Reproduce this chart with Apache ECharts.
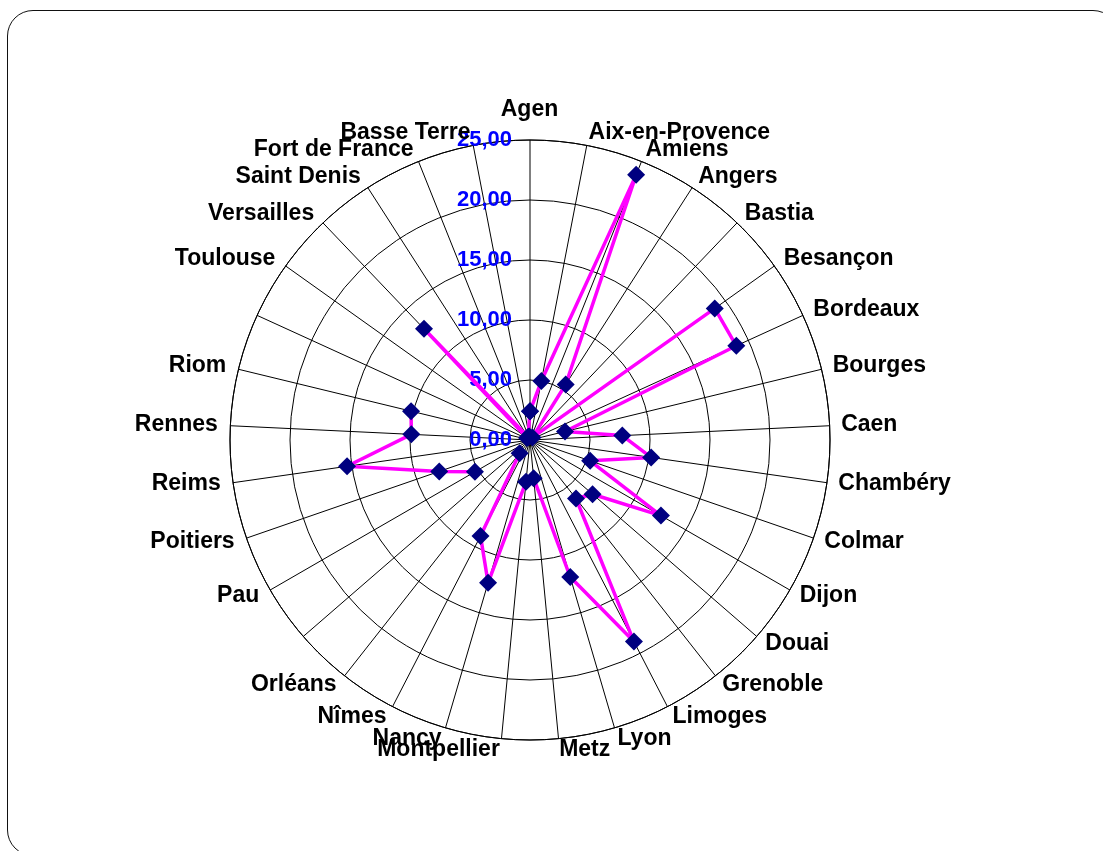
<!DOCTYPE html>
<html>
<head>
<meta charset="utf-8">
<script src="https://cdn.jsdelivr.net/npm/echarts@6/dist/echarts.min.js"></script>
<style>
  html, body { margin: 0; padding: 0; background: #fff; overflow: hidden; }
  #radar { width: 1103px; height: 851px; }
  #frame {
    position: absolute; left: 7px; top: 10px;
    width: 1110px; height: 844px;
    border: 1.5px solid #111; border-radius: 26px;
    pointer-events: none;
  }
</style>
</head>
<body>
<div id="radar"></div>
<div id="frame"></div>
<script>
  // villes (deux catégories sans nom dans l'original)
  var cities = ['Agen', 'Aix-en-Provence', 'Amiens', 'Angers', 'Bastia', 'Besançon', 'Bordeaux',
    'Bourges', 'Caen', 'Chambéry', 'Colmar', 'Dijon', 'Douai', 'Grenoble', 'Limoges', 'Lyon',
    'Metz', 'Montpellier', 'Nancy', 'Nîmes', 'Orléans', '', 'Pau', 'Poitiers', 'Reims', 'Rennes',
    'Riom', '', 'Toulouse', 'Versailles', 'Saint Denis', 'Fort de France', 'Basse Terre']
  var values = [2.4, 5.0, 23.8, 5.5, 0.3, 18.9, 18.9, 3.0, 7.7, 10.2, 5.3, 12.6, 6.9, 6.2, 18.9,
    11.9, 3.2, 3.5, 12.4, 9.0, 1.4, null, 5.3, 8.0, 15.4, 9.9, 10.2, null, 0.3, 12.8, 0.3, 0.3, 0.3]
  var radiusTicks = [0, 5, 10, 15, 20, 25]

  var FONT = 'Liberation Sans, Arial, sans-serif'
  var LABEL_SIZE = 23
  var GAP = 12
  var n = cities.length
  var rMax = radiusTicks[radiusTicks.length - 1]

  // points [rayon, angle] ; on reboucle sur le premier point
  var points = values.map(function (v, i) { return [v == null ? '-' : v, i] })
  points.push([values[0], n])

  // libellés des villes posés au bout de chaque rayon (comme Excel : centrés verticalement)
  var labelPoints = cities.map(function (c, i) {
    var a = i / n * Math.PI * 2
    var s = Math.sin(a), co = Math.cos(a)
    var align = s > 0.05 ? 'left' : (s < -0.05 ? 'right' : 'center')
    var lab = {
      position: [s * GAP, -co * GAP],
      align: align,
      verticalAlign: 'middle'
    }
    if (i === 0) { lab.position = [0, -GAP - 6]; lab.verticalAlign = 'bottom' }
    return { value: [rMax, i], label: lab }
  })

  var chart = echarts.init(document.getElementById('radar'))
  var option = {
    animation: false,
    polar: {
      center: [530, 440],
      radius: 300
    },
    angleAxis: {
      type: 'value',
      min: 0,
      max: n,
      interval: 1,
      startAngle: 90,
      clockwise: true,
      axisLine: { show: true, lineStyle: { color: '#000', width: 1 } },
      axisTick: { show: false },
      axisLabel: { show: false },
      splitLine: { show: true, lineStyle: { color: '#000', width: 1 } }
    },
    radiusAxis: {
      type: 'value',
      min: radiusTicks[0],
      max: rMax,
      interval: 5,
      axisLine: { show: false },
      axisTick: { show: false },
      splitLine: { show: true, lineStyle: { color: '#000', width: 1 } },
      axisLabel: {
        margin: 18,
        color: '#0000ff',
        fontFamily: FONT,
        fontWeight: 'bold',
        fontSize: 22,
        formatter: function (v) { return v.toFixed(2).replace('.', ',') }
      },
      z: 5
    },
    series: [{
      type: 'line',
      coordinateSystem: 'polar',
      data: points,
      connectNulls: false,
      symbol: 'diamond',
      symbolSize: 18,
      itemStyle: { color: '#000080' },
      lineStyle: { color: '#ff00ff', width: 3.5 },
      z: 10
    }, {
      // porteur des libellés de catégories
      type: 'scatter',
      coordinateSystem: 'polar',
      data: labelPoints,
      symbolSize: 1,
      silent: true,
      itemStyle: { color: 'rgba(0,0,0,0)' },
      emphasis: { disabled: true },
      label: {
        show: true,
        opacity: 1,
        fontFamily: FONT,
        fontWeight: 'bold',
        fontSize: LABEL_SIZE,
        formatter: function (p) {
          var c = cities[p.dataIndex]
          return c ? '{t|' + c + '}' : ''
        },
        rich: {
          t: {
            color: '#000000',
            textBorderWidth: 0,
            fontFamily: FONT,
            fontWeight: 'bold',
            fontSize: LABEL_SIZE
          }
        }
      },
      labelLayout: { hideOverlap: false },
      z: 8
    }]
  }
  chart.setOption(option)
</script>
</body>
</html>
